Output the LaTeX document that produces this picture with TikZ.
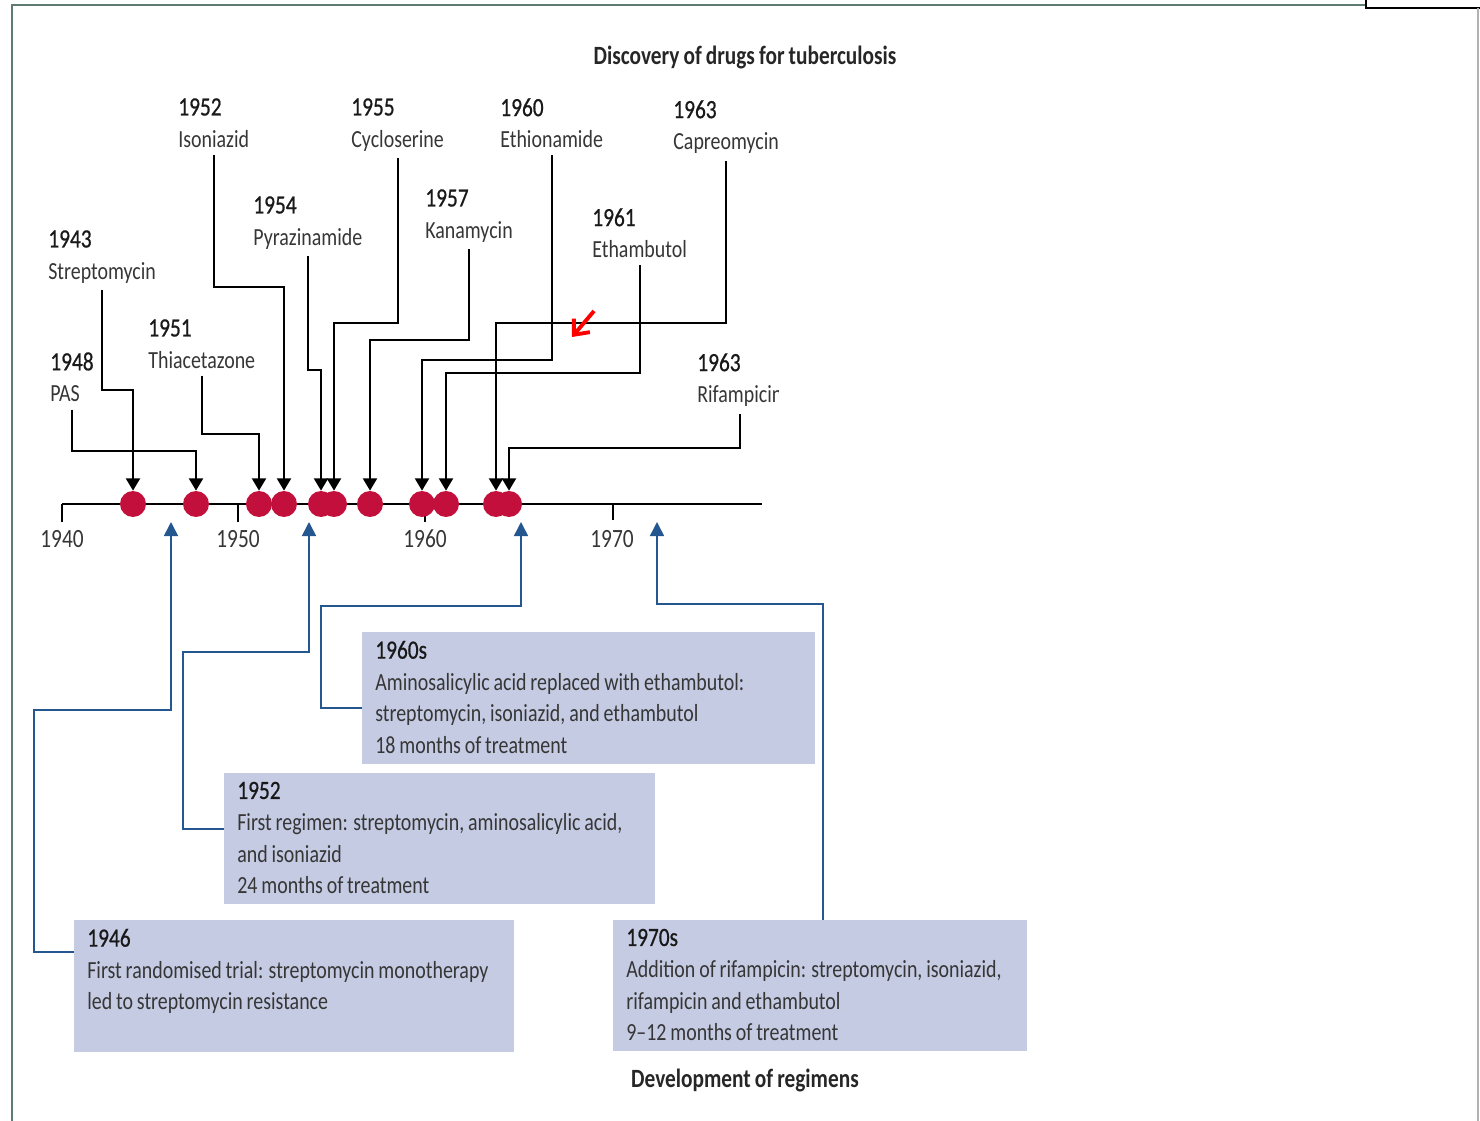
\documentclass[tikz,border=0pt]{standalone}
\usepackage{fontspec}
\setmainfont{Carlito}[FakeStretch=0.81,WordSpace=0.85]
\newfontfamily\yearfont{Carlito}[FakeStretch=0.81,FakeBold=0.7]
\usetikzlibrary{arrows.meta}
\definecolor{dotred}{HTML}{C30F3C}
\definecolor{boxblue}{HTML}{C5CBE3}
\definecolor{regblue}{HTML}{24578F}
\definecolor{framegreen}{HTML}{5E7D70}
\definecolor{labelgray}{HTML}{363636}
\newcommand{\yr}[1]{{\yearfont\fontsize{15}{18}\selectfont\color{black!90}#1}}

\begin{document}
\begin{tikzpicture}[x=0.02cm,y=-0.02cm,
  drug node/.style={anchor=north west,inner sep=0pt,align=left,text=labelgray,font=\fontsize{14}{18}\selectfont},
  axis node/.style={inner sep=0pt,text=labelgray,font=\fontsize{15}{18}\selectfont},
  head node/.style={inner sep=0pt,text=black!85,font=\fontsize{15}{18}\selectfont\bfseries},
  dot node/.style={circle,fill=dotred,inner sep=0pt,minimum size=0.52cm},
  box node/.style={fill=boxblue,anchor=north west,align=flush left,inner xsep=0.26cm,inner ysep=0.17cm,
    text depth=55pt,text=labelgray,font=\fontsize{14}{18}\selectfont},
  drug line/.style={line width=1.1pt,shorten <=4pt,-{Triangle[width=8pt,length=7pt]}},
  reg line/.style={regblue,line width=0.9pt,-{Triangle[width=8pt,length=8pt]}}]

  \useasboundingbox (0,0) rectangle (1480,1121);

  % frame
  \draw[framegreen,line width=1.2pt] (12,1121) -- (12,5) -- (1366,5);
  \draw[line width=1.2pt] (1366,0) -- (1366,8) -- (1480,8);
  \draw[black!30,line width=0.6pt] (1478,8) -- (1478,1121);

  \node[head node] (title) at (745,57) {Discovery of drugs for tuberculosis};
  \node[head node] (foot) at (745,1080) {Development of regimens};

  % time axis
  \draw[line width=1.1pt] (62,504) -- (762,504);
  \draw[line width=1.1pt] (62,504) -- (62,522);
  \draw[line width=1.1pt] (238,504) -- (238,522);
  \draw[line width=1.1pt] (425,504) -- (425,522);
  \draw[line width=1.1pt] (613,504) -- (613,520);
  \node[axis node] (t40) at (62,539) {1940};
  \node[axis node] (t50) at (238,539) {1950};
  \node[axis node] (t60) at (425,539) {1960};
  \node[axis node] (t70) at (612,539) {1970};

  % drugs
  \node[dot node] (d1) at (133,504) {};
  \node[dot node] (d2) at (196,504) {};
  \node[dot node] (d3) at (259,504) {};
  \node[dot node] (d4) at (284,504) {};
  \node[dot node] (d5) at (321,504) {};
  \node[dot node] (d6) at (334,504) {};
  \node[dot node] (d7) at (370,504) {};
  \node[dot node] (d8) at (422,504) {};
  \node[dot node] (d9) at (446,504) {};
  \node[dot node] (d10) at (496,504) {};
  \node[dot node] (d11) at (509,504) {};

  \node[drug node] (strep) at (48,230) {\yr{1943}\\Streptomycin};
  \node[drug node] (pas) at (50,352) {\yr{1948}\\PAS};
  \node[drug node] (thia) at (148,319) {\yr{1951}\\Thiacetazone};
  \node[drug node] (iso) at (178,98) {\yr{1952}\\Isoniazid};
  \node[drug node] (pyra) at (253,196) {\yr{1954}\\Pyrazinamide};
  \node[drug node] (cyclo) at (351,98) {\yr{1955}\\Cycloserine};
  \node[drug node] (kana) at (425,189) {\yr{1957}\\Kanamycin};
  \node[drug node] (ethio) at (500,98) {\yr{1960}\\Ethionamide};
  \node[drug node] (etham) at (592,208) {\yr{1961}\\Ethambutol};
  \node[drug node] (capreo) at (673,100) {\yr{1963}\\Capreomycin};
  \begin{scope}
    \clip (690,340) rectangle (778,420);
    \node[drug node] (rifa) at (697,353) {\yr{1963}\\Rifampicin};
  \end{scope}

  \draw[drug line] (strep.south) |- (133,390) -- (d1.north);
  \draw[drug line] (pas.south) |- (196,451) -- (d2.north);
  \draw[drug line] (thia.south) |- (259,434) -- (d3.north);
  \draw[drug line] (iso.south) |- (284,287) -- (d4.north);
  \draw[drug line] (pyra.south) |- (321,370) -- (d5.north);
  \draw[drug line] (cyclo.south) |- (334,323) -- (d6.north);
  \draw[drug line] (kana.south) |- (370,340) -- (d7.north);
  \draw[drug line] (ethio.south) |- (422,360) -- (d8.north);
  \draw[drug line] (etham.south) |- (446,373) -- (d9.north);
  \draw[drug line] (capreo.south) |- (496,323) -- (d10.north);
  \draw[drug line] (rifa.south) |- (509,448) -- (d11.north);

  % marker
  \coordinate (m1) at (594,311);
  \coordinate (m2) at (572,337);
  \draw[red,line width=2.2pt,-{Straight Barb[length=7pt,width=12pt]}] (m1) -- (m2);

  % regimens
  \node[box node,text width=8.54cm] (b1960) at (362,632)
    {\yr{1960s}\\Aminosalicylic acid replaced with ethambutol:\\streptomycin, isoniazid, and ethambutol\\18 months of treatment};
  \node[box node,text width=8.1cm] (b1952) at (224,773)
    {\yr{1952}\\First regimen: streptomycin, aminosalicylic acid,\\and isoniazid\\24 months of treatment};
  \node[box node,text width=8.28cm] (b1946) at (74,920)
    {\yr{1946}\\First randomised trial: streptomycin monotherapy\\led to streptomycin resistance};
  \node[box node,text width=7.76cm] (b1970) at (613,920)
    {\yr{1970s}\\Addition of rifampicin: streptomycin, isoniazid,\\rifampicin and ethambutol\\9--12 months of treatment};

  \coordinate (u1) at (171,522);
  \coordinate (u2) at (309,522);
  \coordinate (u3) at (521,522);
  \coordinate (u4) at (657,522);

  \draw[reg line] ([yshift=-0.64cm]b1946.north west) -| (34,710) -| (u1);
  \draw[reg line] ([yshift=-1.12cm]b1952.north west) -| (183,652) -| (u2);
  \draw[reg line] ([yshift=-1.52cm]b1960.north west) -| (321,606) -| (u3);
  \draw[reg line] ([xshift=4.2cm]b1970.north west) |- (657,604) -- (u4);
\end{tikzpicture}
\end{document}
